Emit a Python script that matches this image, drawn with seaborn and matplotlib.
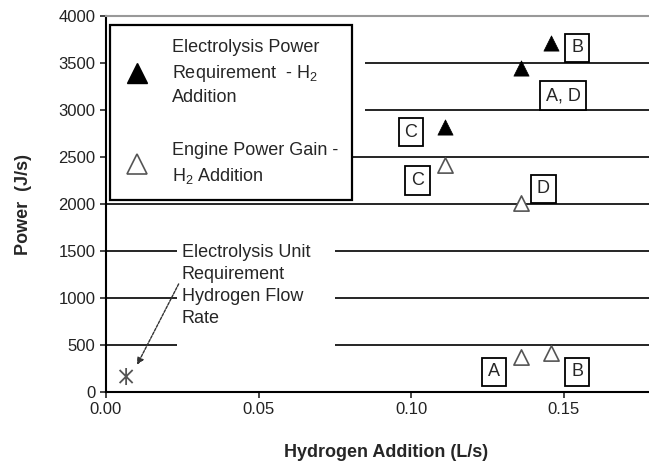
import numpy as np
import pandas as pd
import seaborn as sns
import matplotlib.pyplot as plt
from matplotlib.lines import Line2D
from matplotlib.path import Path

# data
elec_x = [0.111, 0.136, 0.146]
elec_y = [2820, 3450, 3710]
gain_x = [0.111, 0.136, 0.136, 0.146]
gain_y = [2420, 2010, 370, 410]
unit_x = [0.0066]
unit_y = [165]

case_labels = ["B", "A, D", "C", "C", "D", "A", "B"]
case_x = [0.1544, 0.1498, 0.1000, 0.1020, 0.1433, 0.1272, 0.1545]
case_y = [3660, 3150, 2766, 2255, 2160, 213, 213]

grid_levels = [500, 1000, 1500, 2000, 2500, 3000, 3500]
y_ticks = [0, 500, 1000, 1500, 2000, 2500, 3000, 3500, 4000]
x_ticks = [0.00, 0.05, 0.10, 0.15]

sns.set_style("white")
plt.rcParams['font.family'] = ['Liberation Sans', 'DejaVu Sans']
plt.rcParams['mathtext.fontset'] = 'custom'
plt.rcParams['mathtext.rm'] = 'Liberation Sans'
plt.rcParams['mathtext.it'] = 'Liberation Sans'

fig = plt.figure(figsize=(6.49, 4.63), dpi=100)
ax = fig.add_axes([0.1633, 0.1533, 0.8367, 0.8121])
XMAX = 0.178
ax.set_xlim(0, XMAX)
ax.set_ylim(0, 4000)

# horizontal lines, broken where the legend and the note sit
for lv in grid_levels:
    if lv <= 1500:
        ax.hlines(lv, 0, 0.0233, color="black", lw=1.2, zorder=1)
        ax.hlines(lv, 0.0751, XMAX, color="black", lw=1.2, zorder=1)
    elif lv == 2000:
        ax.hlines(lv, 0, XMAX, color="black", lw=1.2, zorder=1)
    elif lv == 2500:
        ax.hlines(lv, 0.08, XMAX, color="black", lw=1.2, zorder=1)
    else:
        ax.hlines(lv, 0.0849, XMAX, color="black", lw=1.2, zorder=1)

elec = pd.DataFrame({"x": elec_x, "y": elec_y})
gain = pd.DataFrame({"x": gain_x, "y": gain_y})
unit = pd.DataFrame({"x": unit_x, "y": unit_y})

sns.scatterplot(data=elec, x="x", y="y", marker="^", s=120, color="black",
                edgecolor="black", linewidth=0.5, ax=ax, legend=False, zorder=3)
sns.scatterplot(data=gain, x="x", y="y", marker="^", s=120, facecolor="white",
                edgecolor="#555555", linewidth=1.2, ax=ax, legend=False, zorder=3)

# excel style star: an X with a vertical bar
star = Path([(-1, -1), (1, 1), (-1, 1), (1, -1), (0, -1.3), (0, 1.3)],
            [Path.MOVETO, Path.LINETO, Path.MOVETO, Path.LINETO, Path.MOVETO, Path.LINETO])
sns.scatterplot(data=unit, x="x", y="y", marker=star, s=150, facecolor="none",
                edgecolor="#555555", linewidth=1.3, ax=ax, legend=False, zorder=3)

for lab, cx, cy in zip(case_labels, case_x, case_y):
    ax.text(cx, cy, lab, fontsize=13, ha="center", va="center", zorder=4,
            bbox=dict(boxstyle="square,pad=0.33", facecolor="white",
                      edgecolor="black", linewidth=1.3))

ax.annotate("Electrolysis Unit\nRequirement\nHydrogen Flow\nRate",
            xy=(0.0102, 290), xytext=(0.0249, 1570),
            fontsize=13, ha="left", va="top", linespacing=1.38,
            arrowprops=dict(arrowstyle="-|>", color="#333333", lw=1.0,
                            linestyle=(0, (2, 1)), mutation_scale=10,
                            shrinkA=0, shrinkB=0,
                            relpos=(0, 0.6)))

handles = [
    Line2D([], [], ls="none", marker="^", ms=14, color="black"),
    Line2D([], [], ls="none", marker="^", ms=14, markerfacecolor="white",
           markeredgecolor="#555555", markeredgewidth=1.2),
]
labels = ["Electrolysis Power\nRequirement  - H$_2$\nAddition",
          "Engine Power Gain -\nH$_2$ Addition"]
leg = ax.legend(handles, labels, loc="upper left", bbox_to_anchor=(0.0074, 0.976),
                borderaxespad=0, fontsize=13, frameon=True, fancybox=False,
                framealpha=1, edgecolor="black", handlelength=1.4,
                handletextpad=1.22, borderpad=0.8, labelspacing=2.0)
for t in leg.get_texts():
    t.set_linespacing(1.42)
leg.get_frame().set_linewidth(1.6)
leg.set_zorder(5)

ax.set_xticks(x_ticks)
ax.set_xticklabels([f"{v:.2f}" for v in x_ticks])
ax.set_yticks(y_ticks)
ax.tick_params(axis="both", direction="out", length=4, width=1.2,
               labelsize=12, labelcolor="#222222", left=True, bottom=True)

for side in ["left", "bottom"]:
    ax.spines[side].set_color("black")
    ax.spines[side].set_linewidth(1.5)
ax.spines["right"].set_visible(False)
ax.spines["top"].set_color("#999999")
ax.spines["top"].set_linewidth(1.5)

ax.set_xlabel("Hydrogen Addition (L/s)", fontsize=13, fontweight="bold")
ax.set_ylabel("Power  (J/s)", fontsize=13, fontweight="bold")
ax.xaxis.set_label_coords(0.516, -0.138)
ax.yaxis.set_label_coords(-0.136, 0.5)

fig.savefig("out.png", dpi=100)
